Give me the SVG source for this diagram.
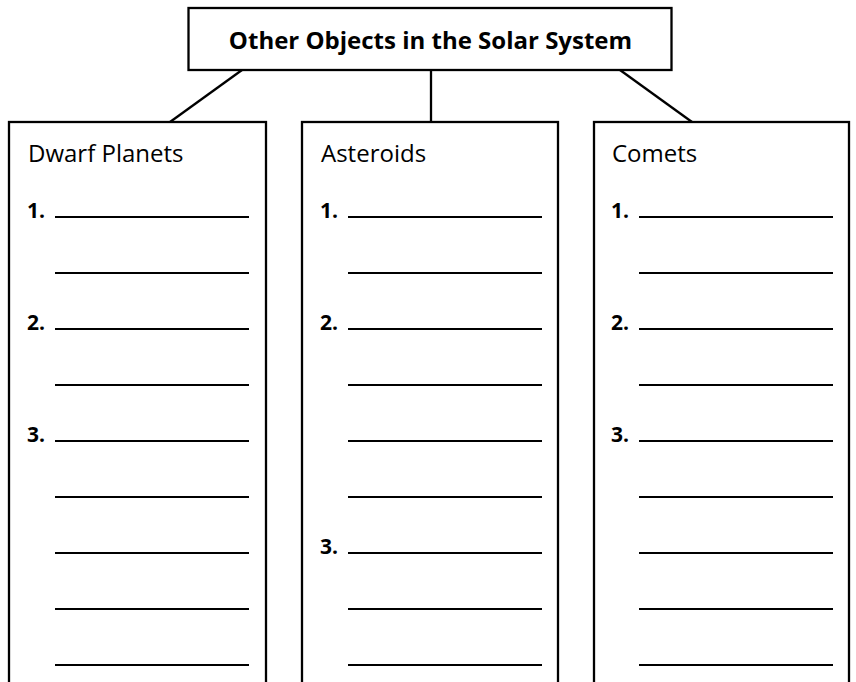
<svg xmlns="http://www.w3.org/2000/svg" width="856" height="682" viewBox="0 0 856 682">
<style>
.box{fill:#fff;stroke:#000;stroke-width:2.3}
.conn{stroke:#000;stroke-width:2.3;fill:none}
.rule{stroke:#000;stroke-width:2}
.title{font-family:"Open Sans","Liberation Sans",sans-serif;font-weight:bold;font-size:24px;fill:#000}
.head{font-family:"Open Sans","Liberation Sans",sans-serif;font-size:24px;fill:#000}
.num{font-family:"Open Sans","Liberation Sans",sans-serif;font-weight:bold;font-size:21px;fill:#000}
</style>
<rect width="856" height="682" fill="#fff"/>
<g id="connectors">
<line class="conn" x1="242" y1="70" x2="170" y2="122"/>
<line class="conn" x1="431" y1="70" x2="431" y2="122"/>
<line class="conn" x1="620" y1="70" x2="692" y2="122"/>
</g>
<g id="title">
<rect class="box" x="188.5" y="8" width="483" height="62"/>
<text class="title" x="430.5" y="49" text-anchor="middle">Other Objects in the Solar System</text>
</g>
<g id="dwarf-planets">
<rect class="box" x="9" y="122" width="257" height="600"/>
<text class="head" x="28" y="162">Dwarf Planets</text>
<text class="num" x="27" y="218">1.</text>
<text class="num" x="27" y="330">2.</text>
<text class="num" x="27" y="442">3.</text>
<g class="rule">
<line x1="55" y1="217" x2="249" y2="217"/>
<line x1="55" y1="273" x2="249" y2="273"/>
<line x1="55" y1="329" x2="249" y2="329"/>
<line x1="55" y1="385" x2="249" y2="385"/>
<line x1="55" y1="441" x2="249" y2="441"/>
<line x1="55" y1="497" x2="249" y2="497"/>
<line x1="55" y1="553" x2="249" y2="553"/>
<line x1="55" y1="609" x2="249" y2="609"/>
<line x1="55" y1="665" x2="249" y2="665"/>
</g>
</g>
<g id="asteroids">
<rect class="box" x="302" y="122" width="256" height="600"/>
<text class="head" x="321" y="162">Asteroids</text>
<text class="num" x="320" y="218">1.</text>
<text class="num" x="320" y="330">2.</text>
<text class="num" x="320" y="554">3.</text>
<g class="rule">
<line x1="348" y1="217" x2="542" y2="217"/>
<line x1="348" y1="273" x2="542" y2="273"/>
<line x1="348" y1="329" x2="542" y2="329"/>
<line x1="348" y1="385" x2="542" y2="385"/>
<line x1="348" y1="441" x2="542" y2="441"/>
<line x1="348" y1="497" x2="542" y2="497"/>
<line x1="348" y1="553" x2="542" y2="553"/>
<line x1="348" y1="609" x2="542" y2="609"/>
<line x1="348" y1="665" x2="542" y2="665"/>
</g>
</g>
<g id="comets">
<rect class="box" x="594" y="122" width="255" height="600"/>
<text class="head" x="612" y="162">Comets</text>
<text class="num" x="611" y="218">1.</text>
<text class="num" x="611" y="330">2.</text>
<text class="num" x="611" y="442">3.</text>
<g class="rule">
<line x1="639" y1="217" x2="833" y2="217"/>
<line x1="639" y1="273" x2="833" y2="273"/>
<line x1="639" y1="329" x2="833" y2="329"/>
<line x1="639" y1="385" x2="833" y2="385"/>
<line x1="639" y1="441" x2="833" y2="441"/>
<line x1="639" y1="497" x2="833" y2="497"/>
<line x1="639" y1="553" x2="833" y2="553"/>
<line x1="639" y1="609" x2="833" y2="609"/>
<line x1="639" y1="665" x2="833" y2="665"/>
</g>
</g>
</svg>
